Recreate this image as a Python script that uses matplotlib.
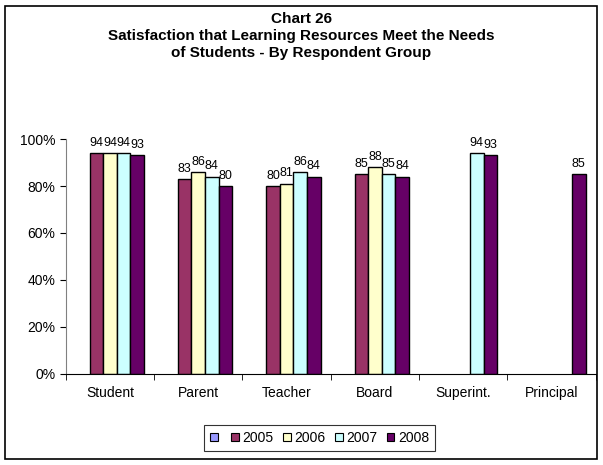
import numpy as np
import matplotlib
matplotlib.use('Agg')
import matplotlib.pyplot as plt
from matplotlib.patches import Rectangle, Patch

plt.rcParams['font.family'] = ['Liberation Sans', 'DejaVu Sans']

groups = ['Student', 'Parent', 'Teacher', 'Board', 'Superint.', 'Principal']
series_names = ['', '2005', '2006', '2007', '2008']
colors = ['#9999FF', '#993366', '#FFFFCC', '#CCFFFF', '#660066']

# None = no data for that group/year
blank = [None, None, None, None, None, None]
y2005 = [94, 83, 80, 85, None, None]
y2006 = [94, 86, 81, 88, None, None]
y2007 = [94, 84, 86, 85, 94, None]
y2008 = [93, 80, 84, 84, 93, 85]
all_series = [blank, y2005, y2006, y2007, y2008]

fig = plt.figure(figsize=(6.03, 4.65), dpi=100)
ax = fig.add_axes([0.109, 0.196, 0.879, 0.505])

w = 1 / 6.5
x = np.arange(len(groups))
for j, (vals, col) in enumerate(zip(all_series, colors)):
    xs = [x[i] + (j - 2) * w for i, v in enumerate(vals) if v is not None]
    hs = [v for v in vals if v is not None]
    if not hs:
        continue
    bars = ax.bar(xs, hs, width=w, color=col, edgecolor='black', linewidth=1.0)
    ax.bar_label(bars, labels=[str(v) for v in hs], padding=3, fontsize=9, clip_on=False)

ax.set_xlim(-0.5, len(groups) - 0.5)
ax.set_ylim(0, 100)
ax.set_yticks(np.arange(0, 101, 20))
ax.set_yticklabels([f'{v}%' for v in range(0, 101, 20)], fontsize=10)
ax.set_xticks(x)
ax.set_xticklabels(groups, fontsize=10)
ax.set_xticks(np.arange(-0.5, len(groups), 1), minor=True)
ax.tick_params(axis='x', which='major', length=0, pad=9)
ax.tick_params(axis='x', which='minor', length=4, direction='out')
ax.tick_params(axis='y', length=4, direction='out')
ax.spines['top'].set_visible(False)
ax.spines['right'].set_visible(False)
ax.spines['left'].set_color('#808080')

fig.text(0.5, 0.975, 'Chart 26\nSatisfaction that Learning Resources Meet the Needs\nof Students - By Respondent Group',
         ha='center', va='top', fontsize=11, fontweight='bold', linespacing=1.3)

handles = [Patch(facecolor=c, edgecolor='black', linewidth=0.8) for c in colors]
leg = fig.legend(handles, series_names, loc='center', bbox_to_anchor=(0.53, 0.058), ncol=5,
                 fontsize=10, frameon=True, fancybox=False, edgecolor='black',
                 handlelength=0.55, handleheight=0.55, handletextpad=0.25,
                 columnspacing=0.7, borderpad=0.45)
leg.get_frame().set_linewidth(0.8)

fig.patches.append(Rectangle((0.008, 0.012), 0.982, 0.976, transform=fig.transFigure,
                             fill=False, edgecolor='black', linewidth=1.2))

plt.savefig('out.png', dpi=100)
